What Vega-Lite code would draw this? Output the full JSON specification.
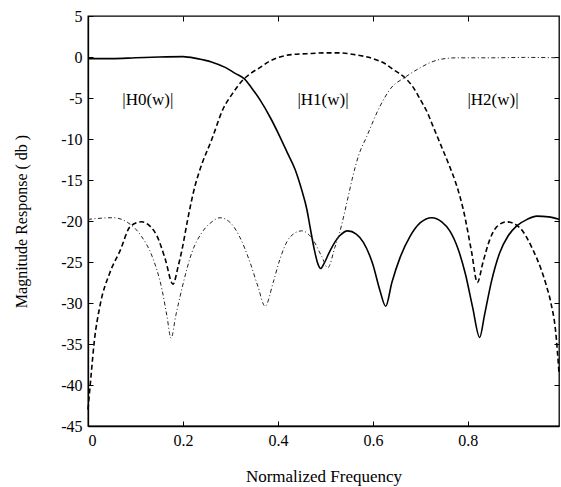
{
  "$schema": "https://vega.github.io/schema/vega-lite/v6.json",
  "width": 471,
  "height": 410,
  "autosize": "none",
  "padding": {"left": 88, "top": 16, "right": 2, "bottom": 61},
  "background": "white",
  "config": {
    "font": "Liberation Serif",
    "view": {"stroke": "black", "strokeWidth": 1.3},
    "axis": {"labelFont": "Liberation Serif", "titleFont": "Liberation Serif", "labelColor": "black", "titleColor": "black", "domainColor": "black", "tickColor": "black", "grid": false, "titleFontWeight": "normal"}
  },
  "datasets": {
    "curves": [
      {"s": "H0", "f": 0, "db": -0.2}, {"s": "H0", "f": 0.05, "db": -0.2}, {"s": "H0", "f": 0.1, "db": -0.1}, {"s": "H0", "f": 0.15, "db": 0}, {"s": "H0", "f": 0.2, "db": 0.05}, {"s": "H0", "f": 0.23, "db": -0.2}, {"s": "H0", "f": 0.26, "db": -0.6}, {"s": "H0", "f": 0.29, "db": -1.3}, {"s": "H0", "f": 0.31, "db": -2.0}, {"s": "H0", "f": 0.33, "db": -2.7}, {"s": "H0", "f": 0.345, "db": -3.8}, {"s": "H0", "f": 0.362, "db": -5.2}, {"s": "H0", "f": 0.385, "db": -7.5}, {"s": "H0", "f": 0.404, "db": -9.7}, {"s": "H0", "f": 0.42, "db": -11.7}, {"s": "H0", "f": 0.436, "db": -13.7}, {"s": "H0", "f": 0.45, "db": -16.2}, {"s": "H0", "f": 0.461, "db": -18.6}, {"s": "H0", "f": 0.467, "db": -20.5}, {"s": "H0", "f": 0.476, "db": -23.3}, {"s": "H0", "f": 0.484, "db": -25.2}, {"s": "H0", "f": 0.49, "db": -25.8}, {"s": "H0", "f": 0.497, "db": -25.2}, {"s": "H0", "f": 0.51, "db": -23.6}, {"s": "H0", "f": 0.53, "db": -21.8}, {"s": "H0", "f": 0.547, "db": -21.2}, {"s": "H0", "f": 0.565, "db": -21.6}, {"s": "H0", "f": 0.58, "db": -22.6}, {"s": "H0", "f": 0.6, "db": -25.3}, {"s": "H0", "f": 0.615, "db": -28.5}, {"s": "H0", "f": 0.627, "db": -30.4}, {"s": "H0", "f": 0.64, "db": -27.5}, {"s": "H0", "f": 0.657, "db": -24.5}, {"s": "H0", "f": 0.678, "db": -21.9}, {"s": "H0", "f": 0.7, "db": -20.2}, {"s": "H0", "f": 0.724, "db": -19.6}, {"s": "H0", "f": 0.745, "db": -20.1}, {"s": "H0", "f": 0.762, "db": -21.2}, {"s": "H0", "f": 0.78, "db": -23.5}, {"s": "H0", "f": 0.795, "db": -26.5}, {"s": "H0", "f": 0.81, "db": -30.5}, {"s": "H0", "f": 0.825, "db": -34.2}, {"s": "H0", "f": 0.835, "db": -31.5}, {"s": "H0", "f": 0.85, "db": -27.3}, {"s": "H0", "f": 0.867, "db": -23.9}, {"s": "H0", "f": 0.885, "db": -21.8}, {"s": "H0", "f": 0.903, "db": -20.6}, {"s": "H0", "f": 0.925, "db": -19.8}, {"s": "H0", "f": 0.945, "db": -19.4}, {"s": "H0", "f": 0.97, "db": -19.5}, {"s": "H0", "f": 0.992, "db": -19.8},
      {"s": "H1", "f": 0, "db": -43}, {"s": "H1", "f": 0.007, "db": -38.5}, {"s": "H1", "f": 0.013, "db": -34.8}, {"s": "H1", "f": 0.025, "db": -30.4}, {"s": "H1", "f": 0.046, "db": -26.3}, {"s": "H1", "f": 0.067, "db": -23.7}, {"s": "H1", "f": 0.09, "db": -20.6}, {"s": "H1", "f": 0.113, "db": -20.1}, {"s": "H1", "f": 0.13, "db": -20.6}, {"s": "H1", "f": 0.145, "db": -21.8}, {"s": "H1", "f": 0.162, "db": -24.5}, {"s": "H1", "f": 0.179, "db": -27.7}, {"s": "H1", "f": 0.19, "db": -25.5}, {"s": "H1", "f": 0.198, "db": -23.5}, {"s": "H1", "f": 0.21, "db": -19.8}, {"s": "H1", "f": 0.225, "db": -15.8}, {"s": "H1", "f": 0.236, "db": -13.7}, {"s": "H1", "f": 0.261, "db": -10}, {"s": "H1", "f": 0.284, "db": -6.4}, {"s": "H1", "f": 0.305, "db": -4.4}, {"s": "H1", "f": 0.328, "db": -2.7}, {"s": "H1", "f": 0.345, "db": -1.9}, {"s": "H1", "f": 0.362, "db": -1.3}, {"s": "H1", "f": 0.38, "db": -0.6}, {"s": "H1", "f": 0.404, "db": 0}, {"s": "H1", "f": 0.43, "db": 0.3}, {"s": "H1", "f": 0.46, "db": 0.4}, {"s": "H1", "f": 0.5, "db": 0.5}, {"s": "H1", "f": 0.53, "db": 0.5}, {"s": "H1", "f": 0.56, "db": 0.3}, {"s": "H1", "f": 0.6, "db": -0.2}, {"s": "H1", "f": 0.625, "db": -0.8}, {"s": "H1", "f": 0.642, "db": -1.5}, {"s": "H1", "f": 0.667, "db": -2.5}, {"s": "H1", "f": 0.685, "db": -3.7}, {"s": "H1", "f": 0.7, "db": -5.2}, {"s": "H1", "f": 0.715, "db": -6.8}, {"s": "H1", "f": 0.727, "db": -8.5}, {"s": "H1", "f": 0.745, "db": -11}, {"s": "H1", "f": 0.762, "db": -13.4}, {"s": "H1", "f": 0.776, "db": -15.6}, {"s": "H1", "f": 0.79, "db": -18.5}, {"s": "H1", "f": 0.808, "db": -23.8}, {"s": "H1", "f": 0.82, "db": -27.5}, {"s": "H1", "f": 0.832, "db": -25}, {"s": "H1", "f": 0.846, "db": -22.3}, {"s": "H1", "f": 0.861, "db": -20.7}, {"s": "H1", "f": 0.882, "db": -20.1}, {"s": "H1", "f": 0.909, "db": -20.8}, {"s": "H1", "f": 0.937, "db": -23.5}, {"s": "H1", "f": 0.955, "db": -26}, {"s": "H1", "f": 0.966, "db": -28}, {"s": "H1", "f": 0.975, "db": -30}, {"s": "H1", "f": 0.985, "db": -33.5}, {"s": "H1", "f": 0.992, "db": -38.5},
      {"s": "H2", "f": 0, "db": -19.8}, {"s": "H2", "f": 0.053, "db": -19.6}, {"s": "H2", "f": 0.084, "db": -20.2}, {"s": "H2", "f": 0.113, "db": -21.9}, {"s": "H2", "f": 0.135, "db": -24.3}, {"s": "H2", "f": 0.156, "db": -28.4}, {"s": "H2", "f": 0.166, "db": -31.5}, {"s": "H2", "f": 0.175, "db": -34.3}, {"s": "H2", "f": 0.185, "db": -31.5}, {"s": "H2", "f": 0.198, "db": -28.2}, {"s": "H2", "f": 0.219, "db": -23.8}, {"s": "H2", "f": 0.24, "db": -21.4}, {"s": "H2", "f": 0.261, "db": -20.1}, {"s": "H2", "f": 0.278, "db": -19.6}, {"s": "H2", "f": 0.303, "db": -20.4}, {"s": "H2", "f": 0.32, "db": -22}, {"s": "H2", "f": 0.341, "db": -25}, {"s": "H2", "f": 0.358, "db": -28}, {"s": "H2", "f": 0.373, "db": -30.4}, {"s": "H2", "f": 0.39, "db": -27.5}, {"s": "H2", "f": 0.404, "db": -24.7}, {"s": "H2", "f": 0.425, "db": -22}, {"s": "H2", "f": 0.45, "db": -21.2}, {"s": "H2", "f": 0.474, "db": -22.3}, {"s": "H2", "f": 0.492, "db": -24.3}, {"s": "H2", "f": 0.505, "db": -25.7}, {"s": "H2", "f": 0.52, "db": -23.2}, {"s": "H2", "f": 0.53, "db": -21.4}, {"s": "H2", "f": 0.545, "db": -17.8}, {"s": "H2", "f": 0.558, "db": -14.5}, {"s": "H2", "f": 0.57, "db": -12}, {"s": "H2", "f": 0.587, "db": -9.7}, {"s": "H2", "f": 0.615, "db": -6}, {"s": "H2", "f": 0.638, "db": -3.8}, {"s": "H2", "f": 0.667, "db": -2.5}, {"s": "H2", "f": 0.7, "db": -1.3}, {"s": "H2", "f": 0.72, "db": -0.7}, {"s": "H2", "f": 0.741, "db": -0.3}, {"s": "H2", "f": 0.777, "db": -0.1}, {"s": "H2", "f": 0.85, "db": -0.1}, {"s": "H2", "f": 0.92, "db": -0.05}, {"s": "H2", "f": 0.992, "db": -0.1}
    ],
    "labels": [
      {"f": 0.126, "db": -5.2, "t": "|H0(w)|"},
      {"f": 0.495, "db": -5.2, "t": "|H1(w)|"},
      {"f": 0.853, "db": -5.2, "t": "|H2(w)|"}
    ]
  },
  "resolve": {"axis": {"x": "independent", "y": "independent"}},
  "layer": [
    {
      "encoding": {
        "x": {"field": "f", "type": "quantitative", "scale": {"domain": [0, 0.992], "nice": false, "zero": false},
          "axis": {"orient": "bottom", "values": [0, 0.2, 0.4, 0.6, 0.8], "labelExpr": "datum.value == 0 ? '0' : format(datum.value, '.1f')", "tickSize": -5, "labelPadding": 11, "labelFontSize": 16, "title": "Normalized Frequency", "titleFontSize": 17, "titleBaseline": "middle", "titleY": 50, "domainWidth": 1.3}},
        "y": {"field": "db", "type": "quantitative", "scale": {"domain": [-45, 5], "nice": false, "zero": false},
          "axis": {"orient": "left", "values": [5, 0, -5, -10, -15, -20, -25, -30, -35, -40, -45], "labelExpr": "datum.value < 0 ? '-' + abs(datum.value) : '' + datum.value", "tickSize": -5, "labelPadding": 11, "labelFontSize": 16, "title": "Magnitude Response ( db )", "titleFontSize": 16, "titleBaseline": "middle", "titleX": -67, "titleY": 205, "titleAngle": -90, "domainWidth": 1.3}}
      },
      "layer": [
        {"data": {"name": "curves"}, "transform": [{"filter": "datum.s == 'H0'"}], "mark": {"type": "line", "interpolate": "monotone", "color": "black", "strokeWidth": 1.6}},
        {"data": {"name": "curves"}, "transform": [{"filter": "datum.s == 'H1'"}], "mark": {"type": "line", "interpolate": "monotone", "color": "black", "strokeWidth": 1.6, "strokeDash": [5, 3]}},
        {"data": {"name": "curves"}, "transform": [{"filter": "datum.s == 'H2'"}], "mark": {"type": "line", "interpolate": "monotone", "color": "#222222", "strokeWidth": 1, "strokeDash": [4, 2.5, 1, 2.5]}},
        {"data": {"name": "labels"}, "mark": {"type": "text", "font": "Liberation Serif", "fontSize": 17, "color": "black", "align": "center", "baseline": "middle"}, "encoding": {"text": {"field": "t"}}}
      ]
    },
    {
      "data": {"name": "labels"},
      "mark": {"type": "point", "opacity": 0},
      "encoding": {
        "x": {"field": "f", "type": "quantitative", "axis": {"orient": "top", "values": [0.2, 0.4, 0.6, 0.8], "labels": false, "tickSize": -5, "title": null, "domain": false}},
        "y": {"field": "db", "type": "quantitative", "axis": {"orient": "right", "values": [0, -5, -10, -15, -20, -25, -30, -35, -40], "labels": false, "tickSize": -5, "title": null, "domain": false}}
      }
    }
  ]
}
